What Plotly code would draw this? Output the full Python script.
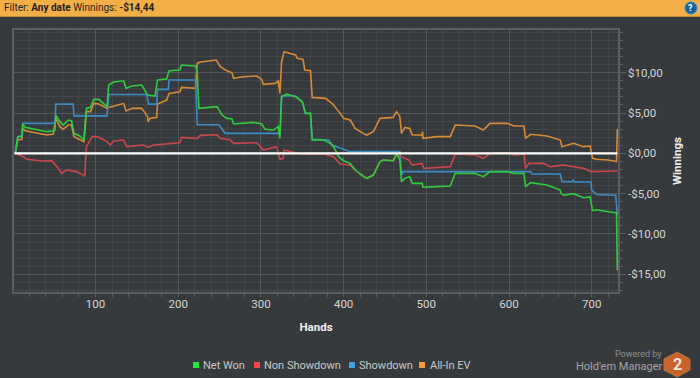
import plotly.graph_objects as go

net_hands = [3,6,11,12,15,29,41,49,51,52,57,61,67,71,74,81,86,89,94,98,104,114,116,122,134,137,144,156,163,172,175,186,189,202,204,221,223,225,247,253,259,265,267,291,301,305,315,321,323,325,331,342,350,354,360,362,376,384,388,394,400,408,414,424,428,436,444,448,460,464,468,470,474,480,483,495,496,513,529,535,559,569,577,598,606,618,620,626,646,662,663,666,678,690,698,701,706,720,730,731]
net_won = [0,2.07,2.15,3.64,3.22,2.98,2.69,2.81,2.9,4.75,3.93,3.51,4.13,4.05,2.48,2.15,1.65,5.58,5.7,6.69,6.69,5.79,8.47,8.84,9.0,8.06,8.35,8.47,7.23,7.11,9.09,9.21,10.25,10.33,10.95,10.83,10.12,5.58,5.79,4.75,4.34,4.3,3.64,3.84,3.64,2.98,2.89,3.31,1.86,7.02,7.36,7.02,6.4,4.96,4.96,1.65,1.65,1.24,0.83,-0.41,-0.91,-1.24,-2.07,-2.89,-3.1,-2.69,-1.03,-0.83,-0.91,-0.08,-0.83,-3.51,-3.1,-2.89,-3.72,-3.72,-4.21,-4.13,-4.05,-2.48,-2.48,-2.89,-2.27,-2.27,-2.48,-2.48,-4.13,-3.64,-3.93,-4.55,-4.96,-5.2,-5.0,-5.5,-5.4,-7.1,-7.0,-7.25,-7.4,-14.5]

non_hands = [3,13,17,37,47,55,59,65,77,87,89,96,102,114,118,122,134,138,158,164,170,202,204,223,227,247,251,263,267,295,303,319,323,327,328,335,348,376,388,396,408,414,424,428,436,444,448,460,464,470,479,483,495,497,509,529,535,559,569,577,598,606,618,620,624,642,650,666,690,700,731]
non_showdown = [0,-0.41,-0.74,-0.95,-0.91,-1.86,-2.48,-2.07,-2.27,-2.77,0.83,2.07,2.07,1.45,1.03,1.53,1.65,0.83,1.03,0.74,1.03,1.32,1.98,1.86,2.23,2.31,1.86,1.65,1.24,1.32,0.41,0.83,-0.74,-0.62,0.41,0.21,-0.08,-0.08,-0.41,-1.32,-1.45,-2.07,-2.89,-3.1,-2.69,-1.03,-0.83,-0.91,-0.21,-0.41,-0.83,-1.45,-1.24,-1.86,-1.78,-1.65,-0.08,-0.21,-0.62,0,0.08,-0.21,-0.08,-1.86,-1.24,-1.24,-1.65,-1.45,-1.86,-2.27,-2.19]

show_hands = [3,6,11,12,51,52,73,74,114,116,162,164,174,175,188,189,221,223,249,257,323,325,342,350,354,360,362,382,386,408,468,470,472,626,628,662,664,676,678,679,699,700,706,729,731]
showdown = [0,2.07,2.1,3.72,3.72,6.1,6.1,4.65,4.65,7.3,7.3,6.1,6.1,7.93,7.93,9.09,9.09,3.55,3.55,2.48,2.48,7.11,7.11,6.4,4.96,4.96,1.74,1.65,1.03,0.21,0.21,-2.69,-2.27,-2.27,-2.56,-2.56,-3.51,-3.51,-3.31,-3.55,-3.55,-4.55,-5.1,-5.2,-7.6]

ev_hands = [3,6,11,12,15,29,41,49,52,57,61,67,71,74,81,86,89,94,98,104,114,116,134,137,144,156,163,163.5,166,174,175,186,189,202,204,221,223,227,246,251,257,265,267,279,295,301,303,317,321,323,325,328,342,344,351,353,360,362,378,386,396,400,408,414,424,428,436,444,460,464,468,470,474,480,483,495,495.5,496,513,529,535,559,569,577,598,606,618,620,626,646,662,664,678,690,698,701,706,720,730,731]
all_in_ev = [0,1.65,1.74,3.1,2.81,2.48,2.27,2.4,4.34,3.31,2.98,3.51,3.51,2.07,1.65,1.45,5.17,5.17,6.2,6.12,5.58,5.7,6.2,5.25,5.58,5.58,4.55,3.93,4.34,4.46,6.12,6.61,7.44,7.64,8.18,8.06,11.16,11.32,11.57,10.74,10.33,10.0,9.3,9.5,9.59,9.17,8.55,8.68,8.97,7.44,11.36,12.6,12.2,11.78,11.65,10.33,10.25,6.94,6.82,6.2,4.96,4.34,4.13,3.1,2.48,2.27,2.69,4.34,4.46,5.17,4.55,2.48,3.22,3.1,2.27,2.27,2.69,1.86,2.07,2.07,3.51,3.39,2.89,3.72,3.72,3.39,3.39,1.86,2.36,2.15,1.65,0.83,1.24,0.83,0.91,-0.62,-0.74,-0.83,-1.03,2.98]

x_tickvals = [100,200,300,400,500,600,700]
y_tickvals = [10,5,0,-5,-10,-15]
y_ticktext = ["$10,00","$5,00","$0,00","-$5,00","-$10,00","-$15,00"]
legend_names = ["Net Won","Non Showdown","Showdown","All-In EV"]
legend_colors = ["#22e53a","#f04848","#3fa2e0","#f59b38"]

W, H = 700, 378
L, R, T, B = 14, 618, 30, 292
BG = "#373a3d"
def px(x): return (x - L) / (R - L)
def py(y): return (B - y) / (B - T)

fig = go.Figure()
for name, xs, ys, col in [
    ("All-In EV", ev_hands, all_in_ev, "#d68a36"),
    ("Showdown", show_hands, showdown, "#3b8cc6"),
    ("Non Showdown", non_hands, non_showdown, "#c9474b"),
    ("Net Won", net_hands, net_won, "#2fcb3d"),
]:
    fig.add_trace(go.Scatter(x=xs, y=ys, name=name, mode="lines",
                             line=dict(color=col, width=1.6), showlegend=False))

shapes = [
    dict(type="rect", xref="paper", yref="paper", x0=px(0), x1=px(W), y0=py(0), y1=py(16),
         fillcolor="#f2ae47", line_width=0, layer="above"),
    dict(type="line", xref="paper", yref="paper", x0=px(0), x1=px(W), y0=py(16.5), y1=py(16.5),
         line=dict(color="#b98636", width=1), layer="above"),
    dict(type="line", xref="x", yref="y", x0=2, x1=731, y0=0, y1=0,
         line=dict(color="#ffffff", width=2.2), layer="above"),
    dict(type="circle", xref="paper", yref="paper", x0=px(685), x1=px(697), y0=py(14), y1=py(2),
         fillcolor="#15629f", line=dict(color="#2a86c9", width=1), layer="above"),
]
# hexagon logo
hx = [677, 690, 690, 677, 664, 664]
hy = [352, 359, 370, 377, 370, 359]
path = "M " + " L ".join(f"{px(a):.4f} {py(b):.4f}" for a, b in zip(hx, hy)) + " Z"
shapes.append(dict(type="path", xref="paper", yref="paper", path=path,
                   fillcolor="#c8642b", line=dict(color="#b5763f", width=1), layer="above"))
anns = []
def note(x, y, text, size=11, color="#cfcfcf", anchor="left"):
    anns.append(dict(xref="paper", yref="paper", x=px(x), y=py(y), text=text, showarrow=False,
                     xanchor=anchor, yanchor="middle", font=dict(size=size, color=color),
                     borderpad=0, borderwidth=0))

note(4, 8, "Filter: <b>Any date</b> Winnings: <b>-$14,44</b>", 10, "#25221c")
note(691, 8, "<b>?</b>", 9, "#ffffff", "center")
note(677, 364, "<b>2</b>", 16, "#efe6dd", "center")
note(662, 354, "Powered by", 9, "#8d8f91", "right")
note(662, 366.5, "Hold'em Manager", 11, "#a3a5a7", "right")

sq = [193, 254, 349, 419]
tx = [203, 264, 359, 430]
for name, col, s, t in zip(legend_names, legend_colors, sq, tx):
    shapes.append(dict(type="rect", xref="paper", yref="paper", x0=px(s), x1=px(s + 6),
                       y0=py(368), y1=py(362), fillcolor=col, line_width=0, layer="above"))
    note(t, 365.5, name, 11, "#c8c8c8")

grid_major = "#53565a"
grid_minor = "#434649"
fig.update_layout(
    width=W, height=H, autosize=False,
    margin=dict(l=L, r=W - R, t=T, b=H - B, pad=0),
    paper_bgcolor=BG, plot_bgcolor=BG,
    font=dict(family="Roboto, sans-serif", color="#d6d6d6", size=11),
    shapes=shapes, annotations=anns, showlegend=False,
    xaxis=dict(range=[1.45, 731.8], tickmode="array", tickvals=x_tickvals,
               ticks="", showgrid=True, gridcolor=grid_major, gridwidth=1.2, zeroline=False,
               showline=True, linecolor="#5b5e61", linewidth=1.5, mirror=True,
               tickfont=dict(size=11.5, color="#d6d6d6"),
               title=dict(text="<b>Hands</b>", font=dict(size=11.5, color="#eeeeee"), standoff=13),
               minor=dict(dtick=20, tick0=0, showgrid=True, gridcolor=grid_minor, gridwidth=1,
                          ticks="outside", ticklen=3, tickcolor="#5b5e61")),
    yaxis=dict(range=[-17.2, 15.3], side="right", tickmode="array", tickvals=y_tickvals,
               ticktext=y_ticktext, ticks="outside", ticklen=6, tickcolor="#5b5e61",
               showgrid=True, gridcolor=grid_major, gridwidth=1.2, zeroline=False,
               showline=True, linecolor="#5b5e61", linewidth=1.5, mirror=True,
               tickfont=dict(size=11.5, color="#d6d6d6"),
               title=dict(text="<b>Winnings</b>", font=dict(size=11.5, color="#eeeeee"), standoff=8),
               minor=dict(dtick=1, tick0=0, showgrid=True, gridcolor=grid_minor, gridwidth=1,
                          ticks="outside", ticklen=3, tickcolor="#5b5e61")),
)
fig.write_html("out.html", config=dict(displayModeBar=False),
               post_script="document.body.style.margin='0';document.body.style.overflow='hidden';")
